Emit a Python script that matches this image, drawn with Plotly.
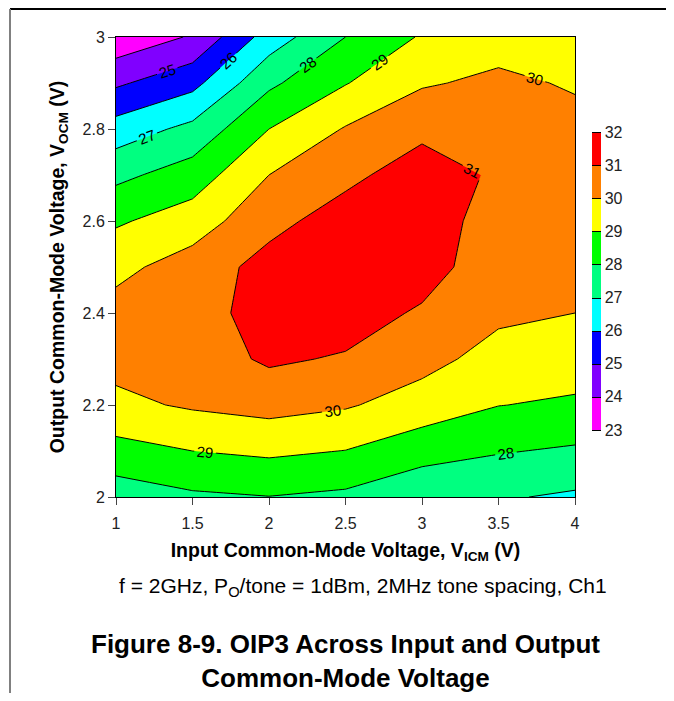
import plotly.graph_objects as go

# Input common-mode voltage (V)
vicm = [1.0, 1.5, 2.0, 2.5, 3.0, 3.5, 4.0]
# Output common-mode voltage (V)
vocm = [2.0, 2.1, 2.2, 2.3, 2.4, 2.5, 2.6, 2.7, 2.8, 2.9, 3.0]

# OIP3 (dBm), one list per VOCM row, values across VICM
oip3_200 = [27.46, 27.84, 27.98, 27.80, 27.23, 27.10, 26.85]
oip3_210 = [28.64, 29.00, 29.18, 28.98, 28.40, 28.07, 27.87]
oip3_220 = [29.78, 30.12, 30.35, 30.10, 29.56, 29.02, 28.86]
oip3_230 = [30.30, 30.50, 31.15, 30.90, 30.33, 29.62, 29.46]
oip3_240 = [30.35, 30.60, 31.40, 31.50, 30.86, 30.20, 30.00]
oip3_250 = [29.73, 30.45, 31.35, 31.70, 31.50, 30.30, 30.30]
oip3_260 = [28.87, 29.49, 30.70, 31.45, 31.70, 30.40, 30.45]
oip3_270 = [27.75, 28.47, 30.00, 30.75, 31.50, 30.85, 30.45]
oip3_280 = [26.44, 27.27, 29.00, 30.07, 30.76, 30.60, 30.30]
oip3_290 = [24.84, 25.70, 27.80, 28.95, 29.90, 30.20, 29.90]
oip3_300 = [23.28, 24.10, 26.46, 28.00, 29.10, 29.60, 29.40]

z = [oip3_200, oip3_210, oip3_220, oip3_230, oip3_240, oip3_250,
     oip3_260, oip3_270, oip3_280, oip3_290, oip3_300]

band_colors = ["#FF00FF", "#8000FF", "#0000FF", "#00FFFF", "#00FF80",
               "#00FF00", "#FFFF00", "#FF8000", "#FF0000"]
n = len(band_colors)
colorscale = []
for i, c in enumerate(band_colors):
    colorscale.append([i / n, c])
    colorscale.append([(i + 1) / n, c])

# page body has an 8px margin, so the figure is sized to fit inside it;
# paper coords below are computed from page pixels of the plot box
PX0, PX1, PY0, PY1 = 116, 575, 37, 497


def px(x):
    return (x - PX0) / (PX1 - PX0)


def py(y):
    return (PY1 - y) / (PY1 - PY0)


fig = go.Figure()
fig.add_trace(go.Contour(
    x=vicm, y=vocm, z=z,
    zmin=23, zmax=32,
    colorscale=colorscale,
    contours=dict(start=23, end=32, size=1, coloring="fill", showlabels=True,
                  labelfont=dict(size=15, color="black", family="Arial")),
    line=dict(color="black", width=1, smoothing=0),
    colorbar=dict(
        x=px(592), xanchor="left", xpad=0,
        y=py(430), yanchor="bottom", ypad=0, len=py(132) - py(430),
        thickness=9, outlinewidth=0,
        tickvals=list(range(23, 33)), ticks="",
        tickfont=dict(size=16, color="#222222", family="Arial"),
    ),
))

axis_common = dict(
    showgrid=True, gridcolor="#C0C0C0", gridwidth=1,
    showline=True, linecolor="black", linewidth=1, mirror=True,
    ticks="outside", ticklen=7, tickcolor="#444",
    tickfont=dict(size=16, color="#222222", family="Arial"),
    zeroline=False,
)
fig.update_xaxes(range=[1, 4], **axis_common, ticklabelstandoff=5,
                 tickvals=[1, 1.5, 2, 2.5, 3, 3.5, 4],
                 ticktext=["1", "1.5", "2", "2.5", "3", "3.5", "4"],
                 title=dict(text="<b>Input Common-Mode Voltage, V<sub>ICM</sub> (V)</b>",
                            font=dict(size=19.5, color="black", family="Arial"), standoff=12))
fig.update_yaxes(range=[2, 3], **axis_common,
                 tickvals=[2, 2.2, 2.4, 2.6, 2.8, 3],
                 ticktext=["2", "2.2", "2.4", "2.6", "2.8", "3"],
                 title=dict(text="<b>Output Common-Mode Voltage, V<sub>OCM</sub> (V)</b>",
                            font=dict(size=19.5, color="black", family="Arial"), standoff=12))

fig.add_annotation(
    text="f = 2GHz, P<sub>O</sub>/tone = 1dBm, 2MHz tone spacing, Ch1",
    xref="paper", yref="paper", x=px(363), y=py(587),
    xanchor="center", yanchor="middle",
    showarrow=False, font=dict(size=21, color="black", family="Arial"),
)
fig.add_annotation(
    text="<b>Figure 8-9. OIP3 Across Input and Output<br>Common-Mode Voltage</b>",
    xref="paper", yref="paper", x=px(345), y=py(661),
    xanchor="center", yanchor="middle",
    showarrow=False, font=dict(size=26, color="black", family="Arial"),
)

# page frame lines
fig.add_shape(type="line", xref="paper", yref="paper",
              x0=px(10), x1=px(674), y0=py(9), y1=py(9),
              line=dict(color="black", width=2))
fig.add_shape(type="line", xref="paper", yref="paper",
              x0=px(10), x1=px(10), y0=py(9), y1=py(701),
              line=dict(color="#808080", width=2))

fig.update_layout(
    width=658, height=685,
    margin=dict(l=PX0 - 8, r=658 - (PX1 - 8), t=PY0 - 8, b=685 - (PY1 - 8)),
    paper_bgcolor="white", plot_bgcolor="white",
    font=dict(family="Arial"),
    showlegend=False,
)

fig.write_html("out.html")
